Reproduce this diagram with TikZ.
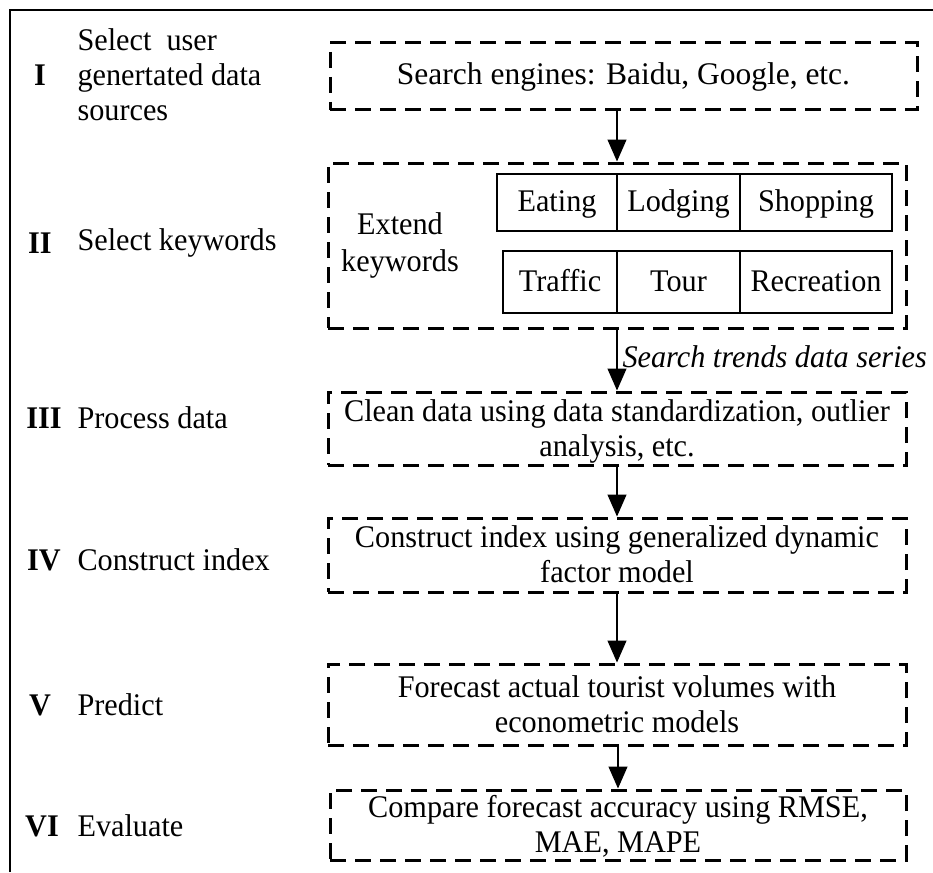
\documentclass[tikz,border=0pt]{standalone}
\usepackage{fontspec}
\setmainfont{Liberation Serif}[FakeStretch=0.96]
\newfontfamily\wideserif{Liberation Serif}
\usetikzlibrary{arrows.meta,positioning,calc}

\begin{document}
\begin{tikzpicture}[x=1pt,y=-1pt,font=\fontsize{31.5}{35}\selectfont]
    \tikzstyle{stage}=[draw,rectangle,line width=3pt,dash pattern=on 16pt off 9pt,minimum width=578pt,inner sep=0pt,align=center]
    \tikzstyle{twoline}=[text height=60pt,text depth=5pt]
    \tikzstyle{cell}=[draw,rectangle,line width=1.3pt,inner sep=0pt,text height=21pt,text depth=3pt]
    \tikzstyle{arr}=[line width=1.2pt,-{Triangle[width=19pt,length=22pt]}]

    \useasboundingbox (0,0) rectangle (933,872);
    \draw[line width=1.4pt] (10,872) -- (10,10) -- (933,10);

    % stages
    \node[stage,minimum width=587pt,minimum height=67pt,font=\wideserif\fontsize{31.5}{37}\selectfont] at (623.5,76.5) (s1) {Search engines: Baidu, Google, etc.};
    \node[stage,minimum height=165pt] at (617,245.5) (s2) {};
    \node[stage,twoline,minimum height=73pt] at (617,428.5) (s3) {Clean data using data standardization, outlier\\analysis, etc.};
    \node[stage,twoline,minimum height=74pt] at (617,555) (s4) {Construct index using generalized dynamic\\factor model};
    \node[stage,twoline,minimum height=81pt] at (617,704.5) (s5) {Forecast actual tourist volumes with\\econometric models};
    \node[stage,twoline,minimum width=576pt,minimum height=70pt] at (618,825) (s6) {Compare forecast accuracy using RMSE,\\MAE, MAPE};

    % keywords
    \node[align=center,font=\fontsize{31.5}{37}\selectfont] at (400,245) (ext) {Extend\\keywords};
    \foreach \n/\x/\w/\t in {eat/557/120/Eating,lodge/678.5/123/Lodging,shop/816/152/Shopping} {
      \node[cell,minimum width=\w pt,minimum height=57pt] at (\x,202.5) (\n) {\t};
    }
    \foreach \n/\x/\w/\t in {traffic/560/114/Traffic,tour/678.5/123/Tour,recr/816/152/Recreation} {
      \node[cell,minimum width=\w pt,minimum height=62pt] at (\x,282) (\n) {\t};
    }

    % arrows
    \draw[arr] (s1.south -| s2.north) -- (s2.north);
    \draw[arr] (s2.south) -- (s3.north);
    \draw[arr] (s3.south) -- (s4.north);
    \draw[arr] (s4.south) -- (s5.north);
    \draw[arr] (s5.south -| s6.north) -- (s6.north);
    \node[anchor=west,font=\fontsize{31.5}{37}\selectfont\itshape] at (619,357) (trend) {Search trends data series};

    % steps on the left
    \foreach \i/\x/\y/\r in {1/40/75/I,2/40/243/II,3/44/418/III,4/44/560/IV,5/40/705/V,6/42/826/VI} {
      \node[font=\fontsize{31.5}{37}\selectfont\bfseries] at (\x,\y) (n\i) {\r};
    }
    \node[anchor=west,align=left] at (74,75) (t1) {Select\ \ user\\genertated data\\sources};
    \node[anchor=west] at (74,243) (t2) {Select keywords};
    \node[anchor=west] at (74,418) (t3) {Process data};
    \node[anchor=west] at (74,560) (t4) {Construct index};
    \node[anchor=west] at (74,705) (t5) {Predict};
    \node[anchor=west] at (74,826) (t6) {Evaluate};
\end{tikzpicture}
\end{document}
